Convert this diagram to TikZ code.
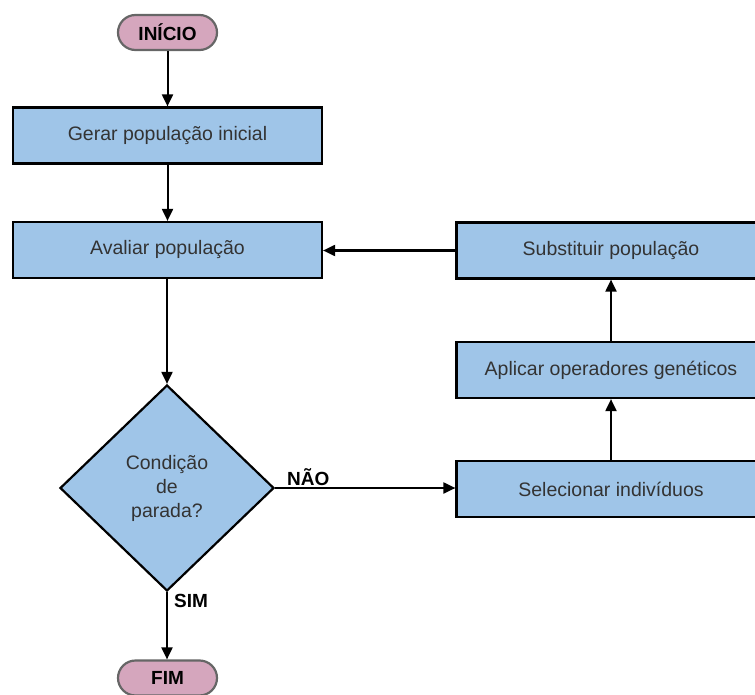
\documentclass[tikz,border=0pt]{standalone}
\usepackage{fontspec}
\setmainfont{Liberation Sans}
\usetikzlibrary{shapes.geometric,arrows.meta}
\definecolor{boxblue}{HTML}{9FC5E8}
\definecolor{pillpink}{HTML}{D5A6BD}
\definecolor{pillline}{HTML}{666666}
\definecolor{txt}{HTML}{333333}
\begin{document}
\begin{tikzpicture}[x=1pt,y=-1pt,
  stepbox/.style={draw=black,fill=boxblue,line width=2.2pt,rectangle,
    minimum width=309pt,minimum height=56pt,inner sep=0pt,
    text=txt,font=\fontsize{19.5}{24}\selectfont},
  terminal/.style={draw=pillline,fill=pillpink,line width=2.2pt,rectangle,
    rounded corners=17.5pt,minimum width=99pt,minimum height=35pt,inner sep=0pt,
    font=\bfseries\fontsize{19}{23}\selectfont},
  decision/.style={draw=black,fill=boxblue,line width=2.2pt,diamond,
    minimum width=214pt,minimum height=206pt,inner sep=0pt,align=center,
    text=txt,font=\fontsize{19.5}{24}\selectfont},
  flow/.style={line width=2pt,-{Triangle[length=12pt,width=11pt]}},
  lbl/.style={font=\bfseries\fontsize{19}{23}\selectfont,inner sep=0pt}]
\useasboundingbox (0,0) rectangle (755,695);

% left column
\node[terminal] (ini) at (167.5,32.5) {INÍCIO};
\node[stepbox] (gerar) at (167.5,135.5) {Gerar população inicial};
\node[stepbox] (aval) at (167.5,250) {Avaliar população};
\node[decision] (cond) at (167,488) {Condição\\de\\parada?};
\node[terminal] (fim) at (167.5,678) {FIM};

% right column
\node[stepbox] (subst) at (611,250.5) {Substituir população};
\node[stepbox] (aplic) at (611,370) {Aplicar operadores genéticos};
\node[stepbox] (selec) at (611,489) {Selecionar indivíduos};

% connectors
\draw[flow] (ini) -- (gerar);
\draw[flow] (gerar) -- (aval);
\draw[flow] (aval.south -| cond.north) -- (cond.north);
\draw[flow] (cond.south) -- (fim.north -| cond.south);
\draw[flow] (cond.east) -- (selec.west |- cond.east);
\draw[flow] (selec.north -| aplic.south) -- (aplic.south);
\draw[flow] (aplic) -- (subst);
\draw[flow] (subst.west) -- (aval.east |- subst.west);

% branch labels
\node[lbl,anchor=south west] (nao) at (287,486) {NÃO};
\node[lbl,anchor=west] (sim) at (174,601) {SIM};
\end{tikzpicture}
\end{document}
